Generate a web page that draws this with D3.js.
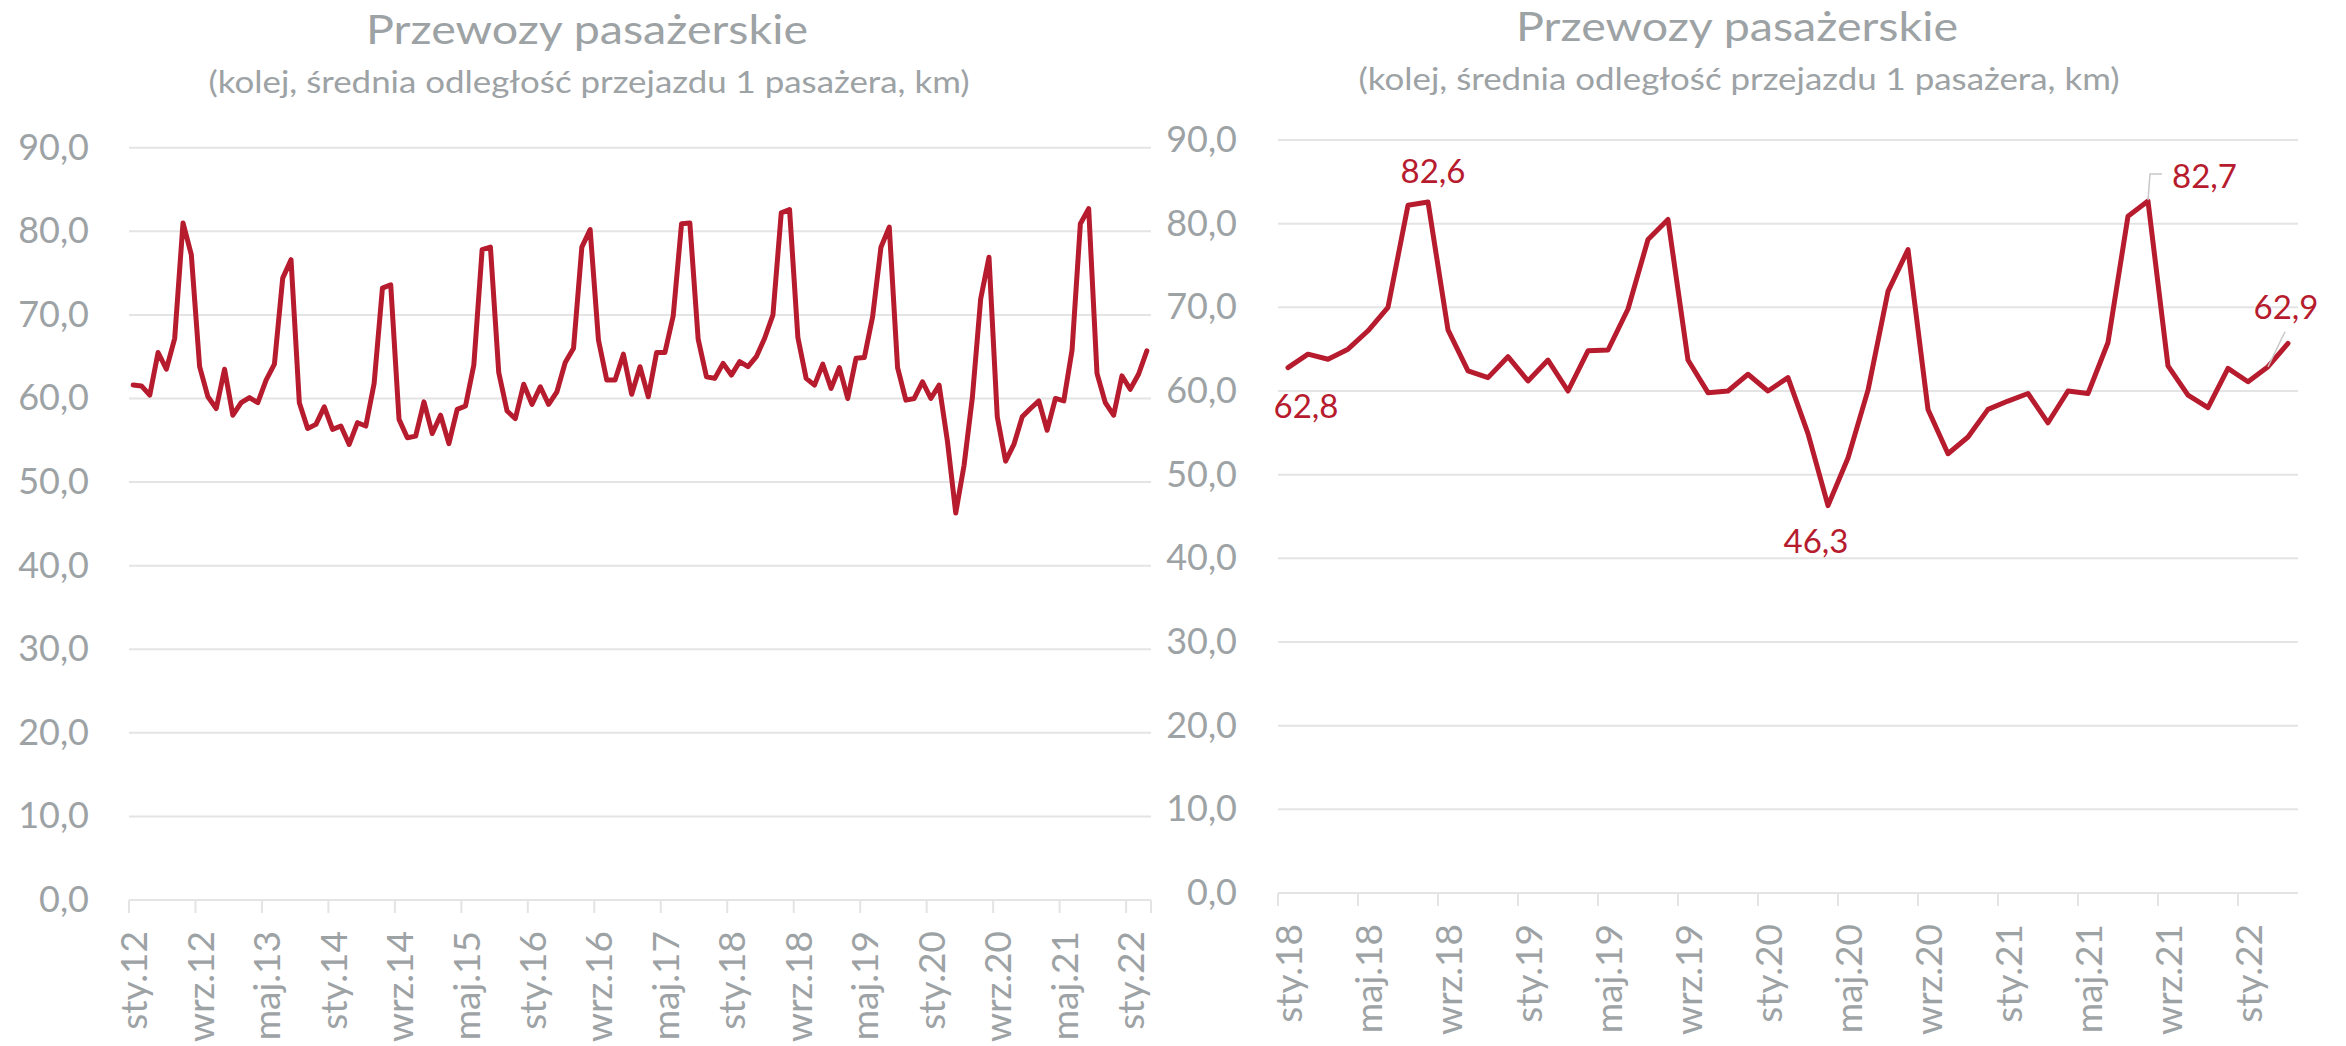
<!DOCTYPE html>
<html>
<head>
<meta charset="utf-8">
<script src="https://cdn.jsdelivr.net/npm/d3@7"></script>
<style>
  body { margin: 0; background: #ffffff; }
  svg { display: block; }
  text { font-family: Lato, "Open Sans", sans-serif; }
</style>
</head>
<body>
<script>
// monthly data, Jan 2012 - Mar 2022 (avg distance per rail passenger, km)
var startYear = 2012;
var monthNames = ["sty","lut","mar","kwi","maj","cze","lip","sie","wrz","paź","lis","gru"];
var values = [
  61.6, 61.5, 60.4, 65.5, 63.5, 67.2, 81.0, 77.2, 63.8, 60.2, 58.8, 63.5,
  58.0, 59.5, 60.1, 59.5, 62.2, 64.1, 74.4, 76.6, 59.5, 56.4, 56.9, 59.0,
  56.3, 56.7, 54.5, 57.1, 56.7, 61.8, 73.2, 73.6, 57.5, 55.3, 55.5, 59.6,
  55.8, 58.0, 54.6, 58.7, 59.1, 64.0, 77.8, 78.1, 63.1, 58.5, 57.6, 61.7,
  59.3, 61.4, 59.3, 60.8, 64.3, 66.0, 78.1, 80.2, 67.0, 62.2, 62.2, 65.3,
  60.5, 63.8, 60.2, 65.5, 65.5, 69.9, 80.9, 81.0, 67.1, 62.6, 62.4, 64.2,
  62.8, 64.4, 63.8, 65.0, 67.2, 70.0, 82.2, 82.6, 67.3, 62.4, 61.6, 64.1,
  61.2, 63.7, 60.0, 64.8, 64.9, 69.8, 78.1, 80.5, 63.7, 59.8, 60.0, 62.0,
  60.0, 61.6, 54.9, 46.3, 52.0, 60.1, 71.9, 76.9, 57.8, 52.5, 54.5, 57.8,
  58.8, 59.7, 56.2, 60.0, 59.7, 65.8, 80.9, 82.7, 63.0, 59.5, 58.0, 62.7,
  61.1, 62.9, 65.7
];
var yTicks = [0, 10, 20, 30, 40, 50, 60, 70, 80, 90];
var title = "Przewozy pasażerskie";
var subtitle = "(kolej, średnia odległość przejazdu 1 pasażera, km)";
// right chart starts Jan 2018, annotated points (index within right chart)
var zoomStart = 72;
var annotated = [0, 7, 27, 43, 49];

var W = 2346, H = 1046;
var red = "#b71b2e", grey = "#9da2a5", grid = "#e4e4e4";

var pl = d3.formatLocale({decimal: ",", thousands: " ", grouping: [3], currency: ["", ""]});
var fmt = pl.format(".1f");

var months = values.map(function(v, i){
  var m = (startYear * 12) + i;
  return monthNames[m % 12] + "." + String(Math.floor(m / 12)).slice(2);
});

var svg = d3.select("body").append("svg")
  .attr("width", W)
  .attr("height", H);

function drawChart(cfg){
  var data = values.slice(cfg.from),
      labels = months.slice(cfg.from),
      idx = d3.range(data.length);

  var x = d3.scaleBand().domain(idx).range([cfg.x0, cfg.x1]).padding(0);
  var y = d3.scaleLinear().domain([0, 90]).range([cfg.yb, cfg.yt]);
  var cx = function(i){ return x(i) + x.bandwidth() / 2; };

  var g = svg.append("g");

  // titles
  g.append("text")
    .attr("x", cfg.tx).attr("y", cfg.ty)
    .attr("text-anchor", "middle")
    .attr("textLength", 442).attr("lengthAdjust", "spacingAndGlyphs")
    .style("font-size", "40px").style("fill", grey)
    .text(title);
  g.append("text")
    .attr("x", cfg.tx + 2).attr("y", cfg.ty + 49)
    .attr("text-anchor", "middle")
    .attr("textLength", 761).attr("lengthAdjust", "spacingAndGlyphs")
    .style("font-size", "31px").style("fill", grey)
    .text(subtitle);

  // gridlines
  g.selectAll(".grid")
      .data(yTicks)
    .enter().append("line")
      .attr("x1", cfg.x0).attr("x2", cfg.x1)
      .attr("y1", function(d){ return y(d); })
      .attr("y2", function(d){ return y(d); })
      .style("stroke", grid).style("stroke-width", 2);

  // y axis labels
  var yAxis = d3.axisLeft(y).tickValues(yTicks).tickFormat(fmt).tickSize(0).tickPadding(cfg.pad);
  var ya = g.append("g").attr("transform", "translate(" + cfg.x0 + ",0)").call(yAxis);
  ya.select(".domain").remove();
  ya.selectAll("text").style("font-size", "36px").style("fill", grey).style("font-family", "Lato");

  // x ticks at category boundaries
  var tickIdx = idx.filter(function(i){ return i % cfg.step == 0; });
  var tickX = tickIdx.map(function(i){ return x(i); });
  if(cfg.endTick) tickX.push(cfg.x1);
  g.selectAll(".xt")
      .data(tickX)
    .enter().append("line")
      .attr("x1", function(d){ return d; }).attr("x2", function(d){ return d; })
      .attr("y1", y(0)).attr("y2", y(0) + 13)
      .style("stroke", grid).style("stroke-width", 2);

  g.selectAll(".xl")
      .data(tickIdx)
    .enter().append("text")
      .attr("transform", function(i){ return "translate(" + (cx(i) + 14) + "," + (y(0) + 31) + ") rotate(-90)"; })
      .attr("text-anchor", "end")
      .style("font-size", "37px").style("fill", grey)
      .text(function(i){ return labels[i]; });

  // line
  var line = d3.line()
    .x(function(d, i){ return cx(i); })
    .y(function(d){ return y(d); });
  g.append("path")
    .datum(data)
    .attr("d", line)
    .style("fill", "none")
    .style("stroke", red)
    .style("stroke-width", 5)
    .style("stroke-linejoin", "round")
    .style("stroke-linecap", "round");

  return {x: cx, y: y, data: data, g: g};
}

drawChart({from: 0, x0: 129, x1: 1151, yb: 900, yt: 147.7, pad: 40, step: 8, endTick: true, tx: 587, ty: 44});
var r = drawChart({from: zoomStart, x0: 1278, x1: 2298, yb: 893, yt: 140, pad: 41, step: 4, endTick: false, tx: 1737, ty: 41});

// data labels on right chart: [dx, dy] offset of label from point, leader points
var labelPos = [
  {dx: 18, dy: 50, anchor: "middle"},
  {dx: 5, dy: -19, anchor: "middle"},
  {dx: -12, dy: 47, anchor: "middle"},
  {dx: 24, dy: -13, anchor: "start", leader: [[0, -1], [2, -27], [14, -27]]},
  {dx: 18, dy: -48, anchor: "middle", leader: [[0, 0], [17, -35]]}
];

annotated.forEach(function(i, k){
  var px = r.x(i), py = r.y(r.data[i]), p = labelPos[k];
  if(p.leader){
    r.g.append("polyline")
      .attr("points", p.leader.map(function(o){ return (px + o[0]) + "," + (py + o[1]); }).join(" "))
      .style("fill", "none").style("stroke", "#c8c8c8").style("stroke-width", 1.5);
  }
  r.g.append("text")
    .attr("x", px + p.dx).attr("y", py + p.dy)
    .attr("text-anchor", p.anchor)
    .style("font-size", "33px").style("fill", red)
    .text(fmt(r.data[i]));
});
</script>
</body>
</html>
